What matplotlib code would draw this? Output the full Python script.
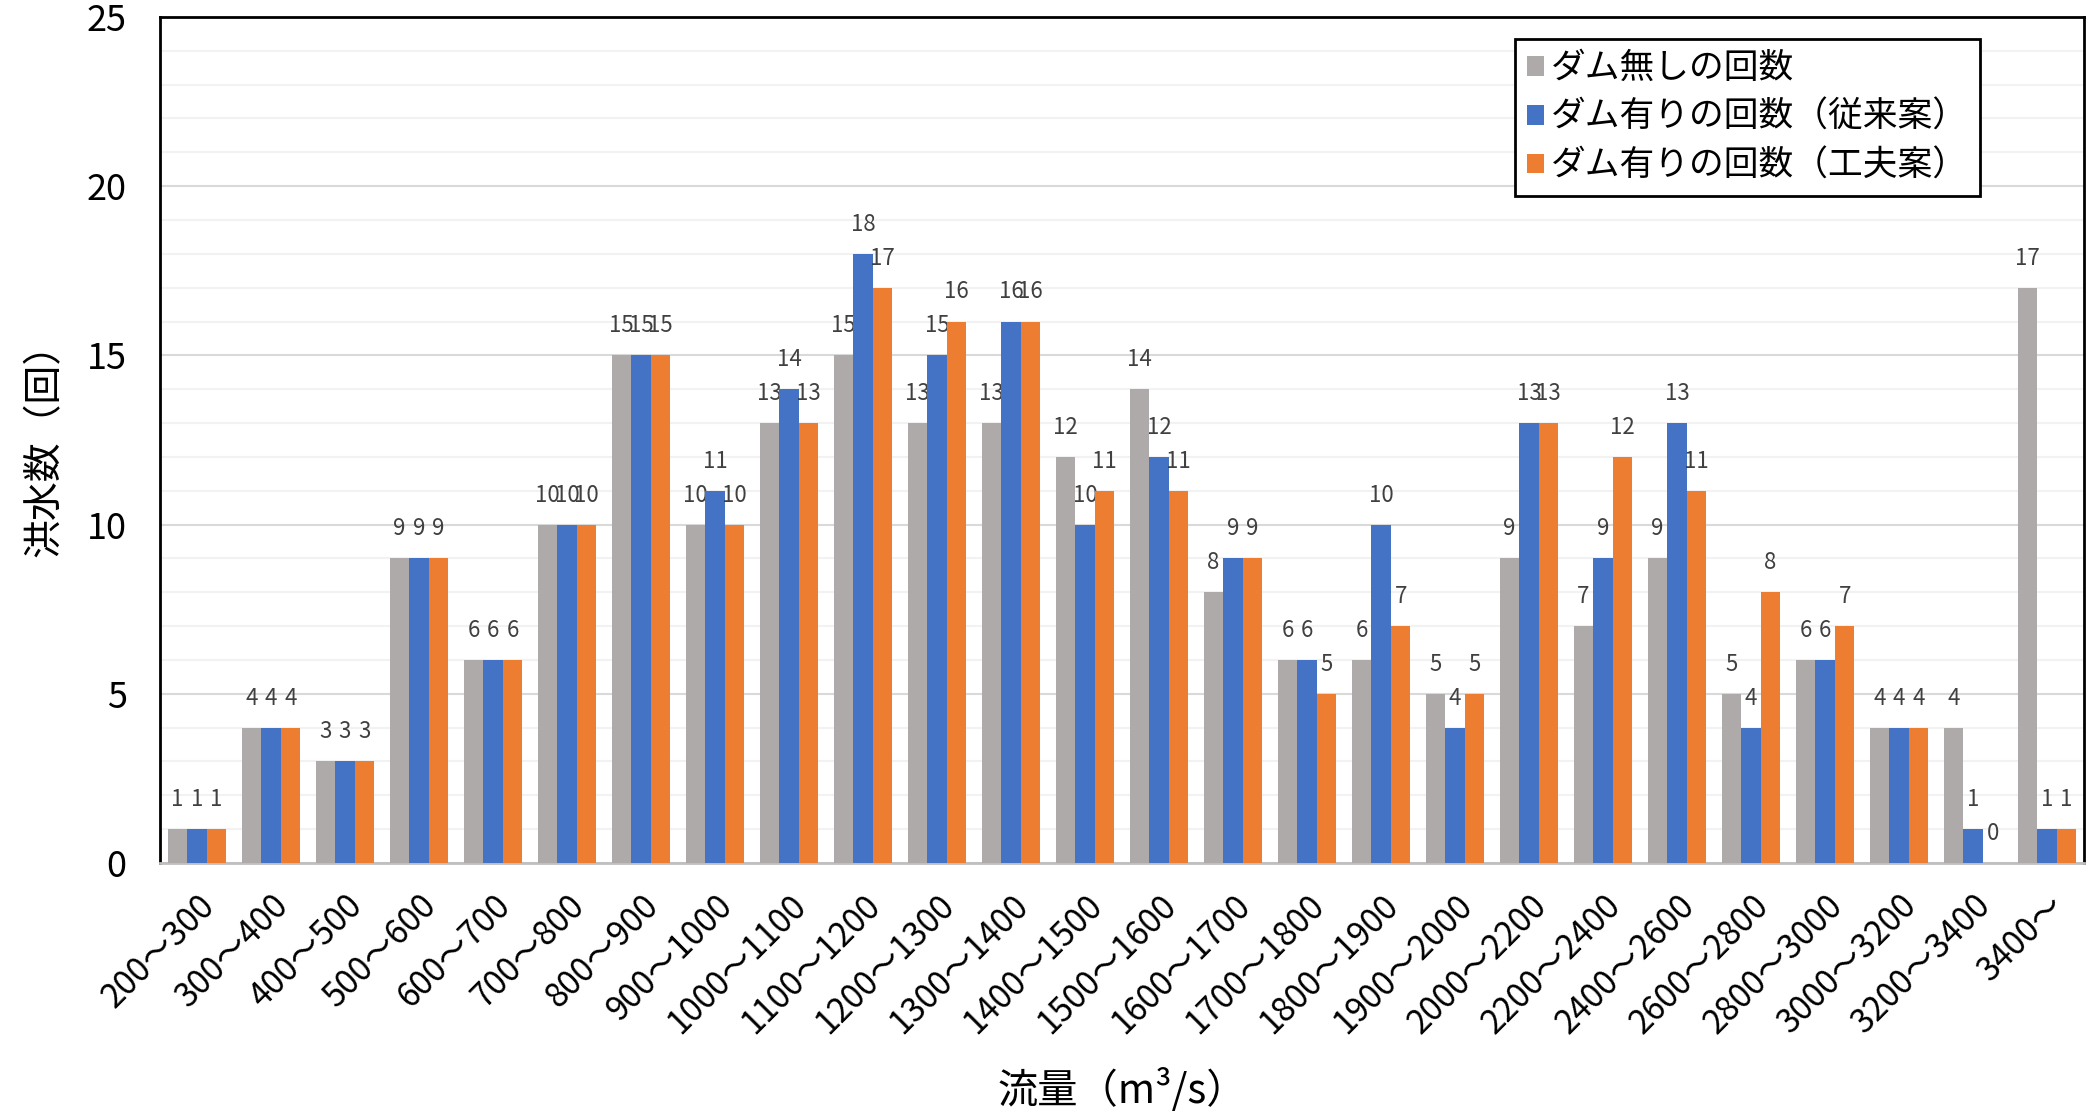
import numpy as np
import matplotlib.pyplot as plt
from matplotlib.ticker import MultipleLocator

plt.rcParams['font.family'] = ['Noto Sans CJK JP', 'DejaVu Sans']

# 流量区分
categories = ['200～300', '300～400', '400～500', '500～600', '600～700', '700～800',
              '800～900', '900～1000', '1000～1100', '1100～1200', '1200～1300',
              '1300～1400', '1400～1500', '1500～1600', '1600～1700', '1700～1800',
              '1800～1900', '1900～2000', '2000～2200', '2200～2400', '2400～2600',
              '2600～2800', '2800～3000', '3000～3200', '3200～3400', '3400～']

# 洪水数
no_dam = [1, 4, 3, 9, 6, 10, 15, 10, 13, 15, 13, 13, 12, 14, 8, 6, 6, 5, 9, 7, 9, 5, 6, 4, 4, 17]
dam_old = [1, 4, 3, 9, 6, 10, 15, 11, 14, 18, 15, 16, 10, 12, 9, 6, 10, 4, 13, 9, 13, 4, 6, 4, 1, 1]
dam_new = [1, 4, 3, 9, 6, 10, 15, 10, 13, 17, 16, 16, 11, 11, 9, 5, 7, 5, 13, 12, 11, 8, 7, 4, 0, 1]

series = [('ダム無しの回数', no_dam, '#AEAAAA'),
          ('ダム有りの回数（従来案）', dam_old, '#4472C4'),
          ('ダム有りの回数（工夫案）', dam_new, '#ED7D31')]

fig = plt.figure(figsize=(20.91, 11.16), dpi=100)
ax = fig.add_axes([0.0765, 0.2267, 0.9202, 0.7581])

x = np.arange(len(categories))
w = 0.264
for i, (name, vals, col) in enumerate(series):
    bars = ax.bar(x + (i - 1) * w, vals, w, color=col, label=name, zorder=3)
    ax.bar_label(bars, padding=13, fontsize=16, color='#404040')

ax.set_xlim(-0.5, len(categories) - 0.5)
ax.set_ylim(0, 25)
ax.yaxis.set_major_locator(MultipleLocator(5))
ax.yaxis.set_minor_locator(MultipleLocator(1))
ax.grid(which='major', axis='y', color='#d9d9d9', lw=1.5, zorder=0)
ax.grid(which='minor', axis='y', color='#f2f2f2', lw=1.5, zorder=0)
ax.tick_params(axis='y', which='both', length=0, labelsize=26, pad=24)
ax.tick_params(axis='x', length=0, labelsize=24, pad=18)

ax.set_xticks(x)
ax.set_xticklabels(categories, rotation=45, ha='right', rotation_mode='anchor')

for s in ['left', 'top', 'right']:
    ax.spines[s].set_color('black')
    ax.spines[s].set_linewidth(2)
ax.spines['bottom'].set_color('#bfbfbf')
ax.spines['bottom'].set_linewidth(2)

ax.set_xlabel('流量（m³/s）', fontsize=29, labelpad=20)
ax.set_ylabel('洪水数（回）', fontsize=28, labelpad=16)

leg = ax.legend(loc='upper right', bbox_to_anchor=(0.946, 0.974), fontsize=25,
                frameon=True, fancybox=False, framealpha=1, edgecolor='black',
                handlelength=0.5, handleheight=0.5, handletextpad=0.2,
                labelspacing=0.4, borderpad=0.35, borderaxespad=0)
leg.get_frame().set_linewidth(2)

plt.savefig('out.png')
